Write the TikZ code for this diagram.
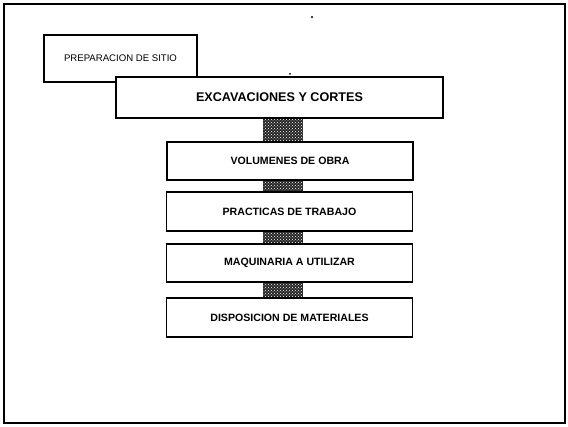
\documentclass[tikz,border=0pt]{standalone}
\usepackage{fontspec}
\setmainfont{Liberation Sans}
\usepackage{tikz}
\usetikzlibrary{patterns,calc}

\begin{document}
\begin{tikzpicture}[x=1pt,y=-1pt,
      b/.style={draw=black,line width=1.2pt,fill=white,
                minimum width=246pt,minimum height=38pt,inner sep=0pt,
                font=\fontsize{10.6}{12}\selectfont\bfseries},
      lnk/.style={preaction={fill=black!85},pattern=crosshatch dots,pattern color=white!80}]
      \useasboundingbox (0,0) rectangle (568,427);
      \draw[line width=1.8pt] (4,4) rectangle (565,423);
      \fill (312,17) circle (1.2pt);
      % boxes
      \node[b,minimum width=153pt,minimum height=47pt,
            font=\fontsize{9.6}{11}\selectfont] (prep) at (120.5,58.5) {PREPARACION DE SITIO};
      \node[b,minimum width=327pt,minimum height=41pt,
            font=\fontsize{12.6}{14}\selectfont\bfseries] (exc) at (279.5,97.5) {EXCAVACIONES Y CORTES};
      \node[b] (vol) at (290,161) {VOLUMENES DE OBRA};
      \node[b,minimum height=39pt] (pra) at (289.5,211.5) {PRACTICAS DE TRABAJO};
      \node[b] (maq) at (289.5,263) {MAQUINARIA A UTILIZAR};
      \node[b,minimum height=39pt] (dis) at (289.5,317.5) {DISPOSICION DE MATERIALES};
      \fill (290,74) circle (1pt);
      % links
      \foreach \s/\t in {exc/vol,vol/pra,pra/maq,maq/dis}
        \path[lnk] let \p1=(\s.south), \p2=(\t.north) in
          (\x2-27pt,\y1-0.6pt) rectangle (\x2+13pt,\y2+0.6pt);
    \end{tikzpicture}
\end{document}
